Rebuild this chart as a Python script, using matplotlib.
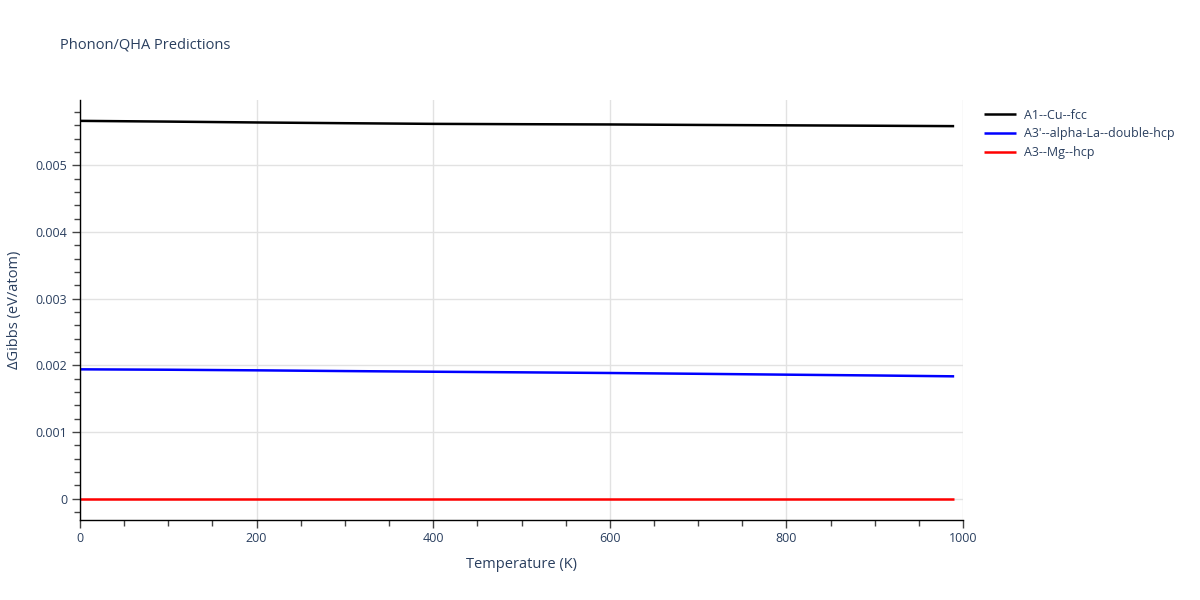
import matplotlib
matplotlib.use("Agg")
import matplotlib.pyplot as plt
from matplotlib.ticker import MultipleLocator, FuncFormatter

plt.rcParams['font.family'] = ['Open Sans', 'DejaVu Sans']

temps = [0, 100, 200, 300, 400, 500, 600, 700, 800, 900, 990]
cu_fcc = [0.005667, 0.005656, 0.005643, 0.005632, 0.005622, 0.005617, 0.005613, 0.005606, 0.005600, 0.005594, 0.005588]
la_dhcp = [0.001940, 0.001934, 0.001925, 0.001914, 0.001904, 0.001895, 0.001885, 0.001873, 0.001860, 0.001848, 0.001835]
mg_hcp = [0.0] * len(temps)

series_names = ["A1--Cu--fcc", "A3'--alpha-La--double-hcp", "A3--Mg--hcp"]
series_colors = ["#000000", "#0000ff", "#ff0000"]

txt = "#2a3f5f"
fig = plt.figure(figsize=(12, 6), dpi=100)
ax = fig.add_axes([80/1200, 80/600, 883/1200, 420/600])

for y, name, c in zip([cu_fcc, la_dhcp, mg_hcp], series_names, series_colors):
    ax.plot(temps, y, color=c, lw=1.8, label=name, solid_capstyle='butt')

ax.set_xlim(0, 1000)
ax.set_ylim(-0.00032, 0.00598)
ax.xaxis.set_major_locator(MultipleLocator(200))
ax.xaxis.set_minor_locator(MultipleLocator(50))
ax.yaxis.set_major_locator(MultipleLocator(0.001))
ax.yaxis.set_minor_locator(MultipleLocator(0.0002))

def yfmt(v, pos):
    if abs(v) < 1e-12:
        return "0"
    return f"{v:.3f}"
ax.yaxis.set_major_formatter(FuncFormatter(yfmt))

ax.grid(True, which='major', color='#e2e2e2', lw=1)
ax.set_axisbelow(True)
for s in ['top', 'right']:
    ax.spines[s].set_visible(False)
for s in ['left', 'bottom']:
    ax.spines[s].set_color('black')
    ax.spines[s].set_linewidth(1)

ax.tick_params(axis='both', which='major', direction='out', length=6, width=1,
               color='#444444', labelcolor=txt, labelsize=9, pad=3)
ax.tick_params(axis='both', which='minor', direction='out', length=4, width=1,
               color='#444444')

ax.set_xlabel("Temperature (K)", color=txt, fontsize=10.5, labelpad=8)
ax.set_ylabel("ΔGibbs (eV/atom)", color=txt, fontsize=10.5, labelpad=10)

fig.text(60/1200, 1 - 45/600, "Phonon/QHA Predictions", color=txt, fontsize=10.5,
         ha='left', va='center')

leg = ax.legend(loc='upper left', bbox_to_anchor=((975 - 80)/883, 1.0), frameon=False,
                fontsize=9, handlelength=2.6, handletextpad=0.6, labelspacing=0.45,
                borderaxespad=0.3)
for t in leg.get_texts():
    t.set_color(txt)

fig.savefig("out.png", dpi=100)
